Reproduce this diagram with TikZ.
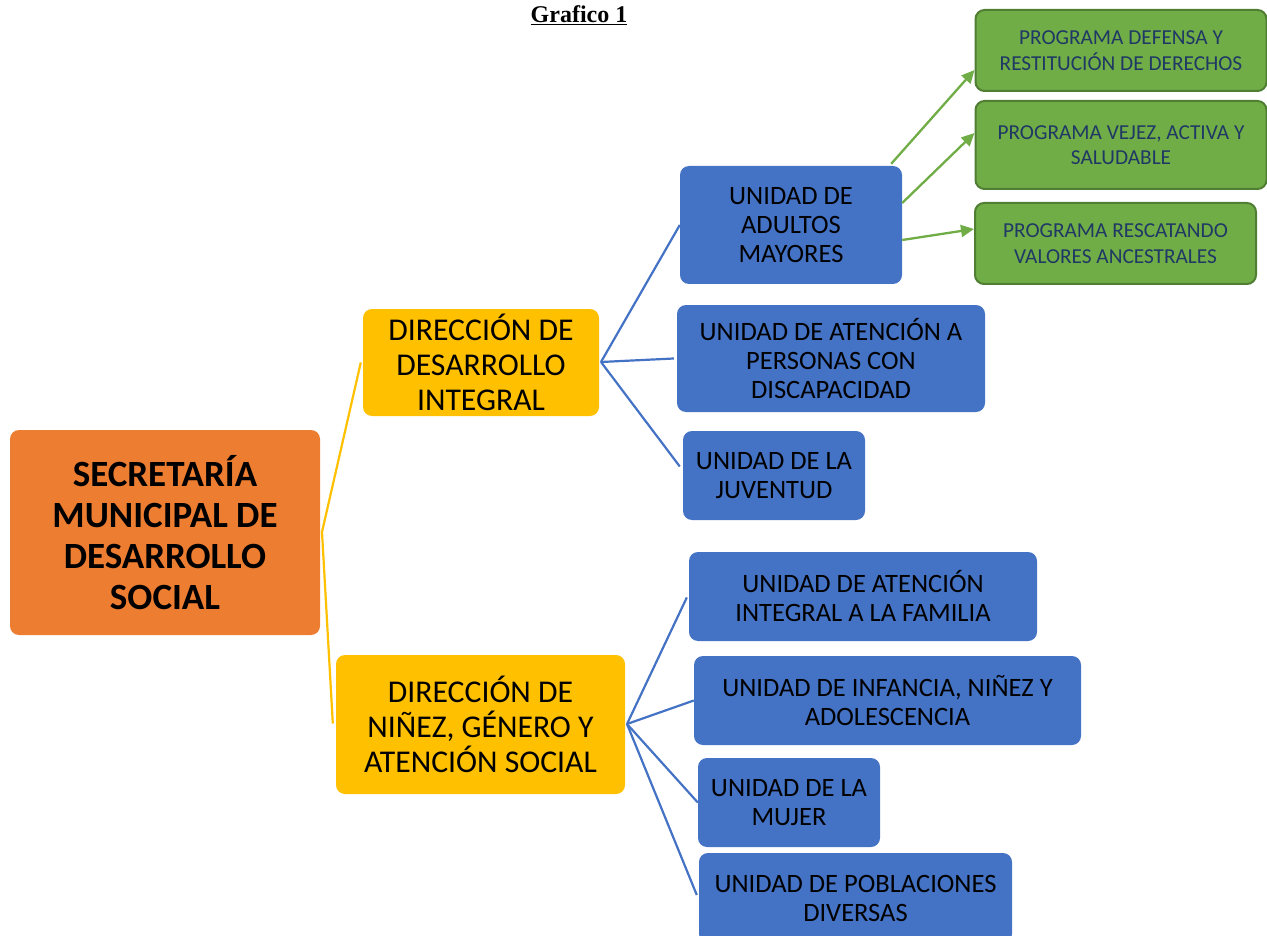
\documentclass[tikz,border=0pt]{standalone}
\usepackage{fontspec}
\setmainfont{Carlito}
\newfontfamily\titlefont{Liberation Serif}
\usetikzlibrary{arrows.meta}
\definecolor{cOrange}{HTML}{ED7D31}
\definecolor{cYellow}{HTML}{FFC000}
\definecolor{cBlue}{HTML}{4472C4}
\definecolor{cGreen}{HTML}{70AD47}
\definecolor{cGreenDark}{HTML}{507E32}
\definecolor{cNavy}{HTML}{1F3864}
\tikzset{
  boxbase/.style={rectangle, rounded corners=9pt, align=center, inner sep=0pt, text=black},
  orangebox/.style={boxbase, fill=cOrange, font=\fontsize{37}{41}\selectfont\bfseries},
  yellowbox/.style={boxbase, fill=cYellow, font=\fontsize{31.7}{35}\selectfont},
  bluebox/.style={boxbase, fill=cBlue, font=\fontsize{26.5}{29}\selectfont},
  greenbox/.style={boxbase, fill=cGreen, draw=cGreenDark, line width=2pt, text=cNavy, font=\fontsize{21.3}{25.5}\selectfont},
  yline/.style={draw=cYellow, line width=2.2pt},
  bline/.style={draw=cBlue, line width=2.2pt},
  garrow/.style={draw=cGreen, line width=2.3pt, -{Triangle[length=13pt,width=12pt]}},
}
\begin{document}
\begin{tikzpicture}[x=1pt,y=-1pt]
\useasboundingbox (0,0) rectangle (1267,936);
\begin{scope}
\clip (0,0) rectangle (1267,936);
\node[font=\titlefont\fontsize{24}{26}\selectfont\bfseries] (title) at (579,15) {\underline{Grafico 1}};

\node[orangebox, minimum width=310pt, minimum height=205pt] (sec) at (165,532.5) {SECRETARÍA\\MUNICIPAL DE\\DESARROLLO\\SOCIAL};

\node[yellowbox, minimum width=236pt, minimum height=107pt] (y1) at (481,362.5) {DIRECCIÓN DE\\DESARROLLO\\INTEGRAL};
\node[yellowbox, minimum width=289pt, minimum height=139pt] (y2) at (480.5,724.5) {DIRECCIÓN DE\\NIÑEZ, GÉNERO Y\\ATENCIÓN SOCIAL};

\node[bluebox, minimum width=222pt, minimum height=118pt] (b1) at (791,225) {UNIDAD DE\\ADULTOS\\MAYORES};
\node[bluebox, minimum width=308pt, minimum height=107pt] (b2) at (831,358.5) {UNIDAD DE ATENCIÓN A\\PERSONAS CON\\DISCAPACIDAD};
\node[bluebox, minimum width=182pt, minimum height=89pt] (b3) at (774,475.5) {UNIDAD DE LA\\JUVENTUD};
\node[bluebox, minimum width=348pt, minimum height=89pt] (b4) at (863,596.5) {UNIDAD DE ATENCIÓN\\INTEGRAL A LA FAMILIA};
\node[bluebox, minimum width=387pt, minimum height=89pt] (b5) at (887.5,700.5) {UNIDAD DE INFANCIA, NIÑEZ Y\\ADOLESCENCIA};
\node[bluebox, minimum width=182pt, minimum height=89pt] (b6) at (789,802.5) {UNIDAD DE LA\\MUJER};
\node[bluebox, minimum width=313pt, minimum height=90pt] (b7) at (855.5,898) {UNIDAD DE POBLACIONES\\DIVERSAS};

\node[greenbox, minimum width=291pt, minimum height=81pt] (g1) at (1121,50.5) {PROGRAMA DEFENSA Y\\RESTITUCIÓN DE DERECHOS};
\node[greenbox, minimum width=291pt, minimum height=88pt] (g2) at (1121,145) {PROGRAMA VEJEZ, ACTIVA Y\\SALUDABLE};
\node[greenbox, minimum width=281pt, minimum height=81pt] (g3) at (1115.5,243.5) {PROGRAMA RESCATANDO\\VALORES ANCESTRALES};

\coordinate (hub) at (322,532);
\draw[yline] (hub) -- ([xshift=-2pt]y1.west);
\draw[yline] (hub) -- ([xshift=-3pt,yshift=1pt]y2.west);

\coordinate (h1) at (601,362);
\draw[bline] (h1) -- (b1.west);
\draw[bline] (h1) -- ([xshift=-3pt]b2.west);
\draw[bline] (h1) -- ([xshift=-3pt,yshift=9pt]b3.west);

\coordinate (h2) at (627,724);
\draw[bline] (h2) -- ([xshift=-2pt,yshift=-1pt]b4.west);
\draw[bline] (h2) -- (b5.west);
\draw[bline] (h2) -- (b6.west);
\draw[bline] (h2) -- ([xshift=-2pt,yshift=3pt]b7.west);

\draw[garrow] ([xshift=-11pt,yshift=2pt]b1.north east) -- ([yshift=-19.5pt]g1.west);
\draw[garrow] ([yshift=22pt]b1.east) -- ([yshift=12pt]g2.west);
\draw[garrow] ([yshift=-15pt]b1.east) -- ([yshift=14.5pt]g3.west);
\end{scope}
\end{tikzpicture}
\end{document}
